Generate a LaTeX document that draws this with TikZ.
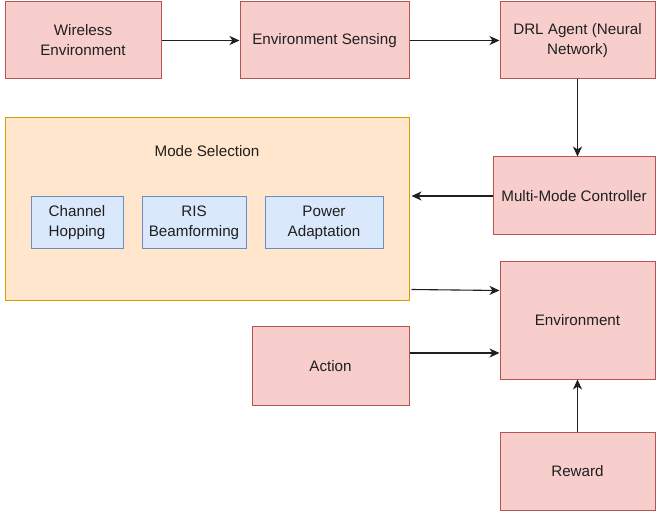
\documentclass[tikz,border=0pt]{standalone}
\usepackage{fontspec}
\setmainfont{Liberation Sans}
\usetikzlibrary{arrows.meta, positioning, calc}
\definecolor{rdfill}{HTML}{F8CECC}
\definecolor{rdline}{HTML}{B85450}
\definecolor{orfill}{HTML}{FFE6CC}
\definecolor{orline}{HTML}{D79B00}
\definecolor{blfill}{HTML}{DAE8FC}
\definecolor{blline}{HTML}{6C8EBF}

\begin{document}
\begin{tikzpicture}[
  x=1pt, y=-1pt,
  every node/.style={font=\fontsize{15.2}{20}\selectfont, text=black!88},
  rdnode/.style={rectangle, draw=rdline, fill=rdfill, line width=1pt, align=center, inner sep=0pt},
  ornode/.style={rectangle, draw=orline, fill=orfill, line width=1pt, inner sep=0pt},
  blnode/.style={rectangle, draw=blline, fill=blfill, line width=1pt, align=center, inner sep=0pt, minimum height=52pt},
  flow/.style={-{Stealth[length=10pt, width=9pt, inset=3pt]}, line width=1.1pt, black!88},
]
\useasboundingbox (0,0) rectangle (657,516);
% top row
\node[rdnode, minimum width=156pt, minimum height=77pt] (we) at (83, 40.5) {Wireless\\Environment};
\node[rdnode, minimum width=169pt, minimum height=77pt] (es) at (324.5, 40.5) {Environment Sensing};
\node[rdnode, minimum width=155pt, minimum height=77pt] (drl) at (577.5, 40.5) {DRL Agent (Neural\\Network)};
\node[rdnode, minimum width=162pt, minimum height=78pt] (mmc) at (574, 196) {Multi-Mode Controller};

% mode selection block
\node[ornode, minimum width=404pt, minimum height=183pt] (mode) at (207, 209.5) {};
\node (modelbl) at (207, 151) {Mode Selection};
\node[blnode, minimum width=92pt] (ch) at (77, 223) {Channel\\Hopping};
\node[blnode, minimum width=104pt] (ris) at (194, 223) {RIS\\Beamforming};
\node[blnode, minimum width=118pt] (pa) at (324, 223) {Power\\Adaptation};

% bottom part
\node[rdnode, minimum width=155pt, minimum height=117pt] (env) at (577.5, 320.5) {Environment};
\node[rdnode, minimum width=157pt, minimum height=78pt] (act) at (330.5, 366) {Action};
\node[rdnode, minimum width=155pt, minimum height=78pt] (rew) at (577.5, 471) {Reward};

\coordinate (modeout) at ($(mode.south east)+(2,-12)$);
\coordinate (actout) at ($(act.east)+(0,-13)$);

\draw[flow] (we) -- (es);
\draw[flow] (es) -- (drl);
\draw[flow] (drl.south) -- (drl.south |- mmc.north);
\draw[flow, shorten >=2pt] (mmc.west) -- (mode.east |- mmc.west);
\draw[flow] (modeout) -- ($(env.north west)+(0,29)$);
\draw[flow] (actout) -- (env.west |- actout);
\draw[flow] (rew) -- (env);
\end{tikzpicture}
\end{document}
